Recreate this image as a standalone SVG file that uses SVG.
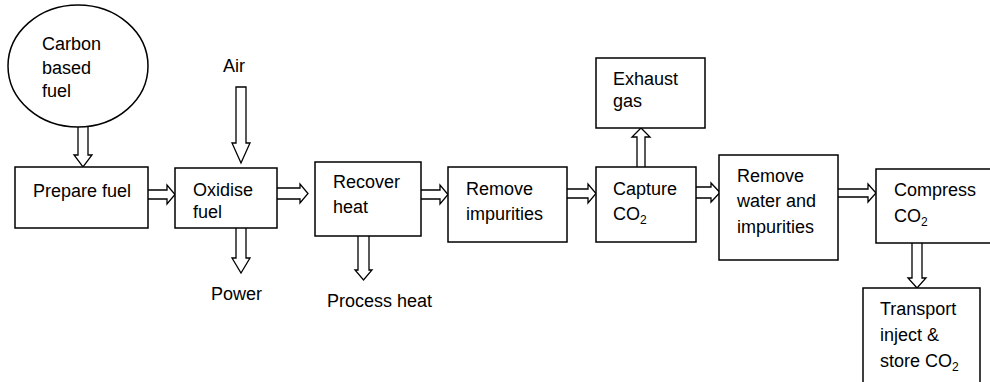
<svg xmlns="http://www.w3.org/2000/svg" width="990" height="382" viewBox="0 0 990 382">
<style>
.box{fill:#fff;stroke:#000;stroke-width:1.5}
.arr{fill:#fff;stroke:#000;stroke-width:1.3;stroke-linejoin:miter}
text{font-family:"Liberation Sans",Arial,sans-serif;font-size:18px;fill:#000}
.sub{font-size:12px}
</style>
<rect width="990" height="382" fill="#fff"/>
<g id="connectors">
<path class="arr" d="M78,127 V155 H74 L83,167 L92,155 H88 V127"/>
<path class="arr" d="M236,87 V143 H232 L241,163 L250,143 H246 V87 Z"/>
<path class="arr" d="M236,228 V258 H232 L241,273 L250,258 H246 V228"/>
<path class="arr" d="M358,236 V270 H355 L363.5,280 L372,270 H369 V236"/>
<path class="arr" d="M637,167 V137 H632 L641,128 L650,137 H645 V167"/>
<path class="arr" d="M912,243 V278 H908 L917,288 L926,278 H922 V243"/>
<path class="arr" d="M140,190 H167 V185 L175,194.5 L167,204 V199 H140 Z"/>
<path class="arr" d="M277,188 H300 V184 L308,193.5 L300,203 V199 H277"/>
<path class="arr" d="M421,190 H440 V185 L448,194.5 L440,204 V199 H421"/>
<path class="arr" d="M567,189 H588 V184 L596,193.5 L588,203 V198 H567"/>
<path class="arr" d="M696,187 H711 V183 L720,192.5 L711,202 V198 H696"/>
<path class="arr" d="M838,189 H868 V184 L876,193 L868,202 V197 H838"/>
</g>
<g id="carbon-fuel">
<ellipse class="box" cx="78" cy="66" rx="70" ry="61"/>
<text x="42" y="50">Carbon</text>
<text x="42" y="74">based</text>
<text x="42" y="97">fuel</text>
</g>
<g id="prepare-fuel">
<rect class="box" x="15" y="167" width="133" height="61"/>
<text x="33" y="197">Prepare fuel</text>
</g>
<g id="air"><text x="223" y="72">Air</text></g>
<g id="oxidise-fuel">
<rect class="box" x="175" y="168" width="102" height="60"/>
<text x="193" y="196">Oxidise</text>
<text x="193" y="218">fuel</text>
</g>
<g id="power"><text x="211" y="300">Power</text></g>
<g id="recover-heat">
<rect class="box" x="315" y="162" width="106" height="74"/>
<text x="333" y="188">Recover</text>
<text x="333" y="213">heat</text>
</g>
<g id="process-heat"><text x="327" y="307">Process heat</text></g>
<g id="remove-impurities">
<rect class="box" x="448" y="167" width="119" height="75"/>
<text x="466" y="195">Remove</text>
<text x="466" y="220">impurities</text>
</g>
<g id="capture-co2">
<rect class="box" x="596" y="167" width="100" height="75"/>
<text x="613" y="195">Capture</text>
<text x="613" y="220">CO<tspan class="sub" dy="4">2</tspan></text>
</g>
<g id="exhaust-gas">
<rect class="box" x="596" y="58" width="109" height="70"/>
<text x="613" y="85">Exhaust</text>
<text x="613" y="107">gas</text>
</g>
<g id="remove-water">
<rect class="box" x="719" y="155" width="119" height="105"/>
<text x="737" y="182">Remove</text>
<text x="737" y="207">water and</text>
<text x="737" y="233">impurities</text>
</g>
<g id="compress-co2">
<rect class="box" x="876" y="169" width="120" height="74"/>
<text x="894" y="196">Compress</text>
<text x="894" y="222">CO<tspan class="sub" dy="4">2</tspan></text>
</g>
<g id="transport">
<rect class="box" x="863" y="288" width="117" height="100"/>
<text x="880" y="315">Transport</text>
<text x="880" y="341">inject &amp;</text>
<text x="880" y="367">store CO<tspan class="sub" dy="4">2</tspan></text>
</g>
</svg>
